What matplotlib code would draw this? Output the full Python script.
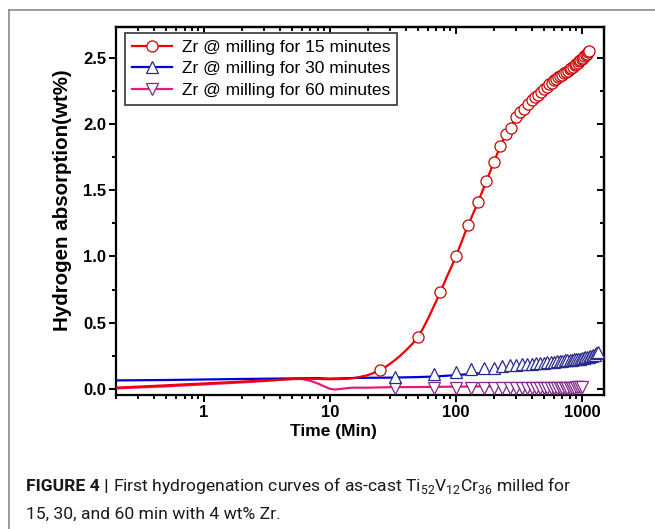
import matplotlib
matplotlib.use("Agg")
import matplotlib.pyplot as plt
from matplotlib.lines import Line2D
from matplotlib import font_manager
from matplotlib.ticker import FixedLocator, NullFormatter, LogLocator, MultipleLocator, FixedFormatter

# ---------------- data ----------------
# 15 min (red, circles)
red_line_t = [0.2, 0.3, 0.5, 0.7, 1, 1.5, 2, 3, 4, 5, 6, 7, 8, 10, 12, 14, 16, 18, 20, 22,
              25, 28, 32, 36, 40, 45, 50, 55, 60, 65, 70, 75, 80, 85, 90, 95, 100, 110, 120]
red_line_y = [0.010, 0.018, 0.028, 0.035, 0.042, 0.050, 0.056, 0.064, 0.070, 0.075, 0.078, 0.078, 0.076, 0.074, 0.075, 0.078, 0.085, 0.095, 0.105, 0.120,
              0.145, 0.170, 0.210, 0.250, 0.290, 0.340, 0.390, 0.460, 0.530, 0.600, 0.665, 0.730, 0.790, 0.850, 0.900, 0.950, 1.000, 1.100, 1.195]
red_t = [25, 50, 75, 100, 125, 150, 175, 200, 225, 250, 275, 300, 325, 350, 375, 400,
         425, 450, 475, 500, 525, 550, 575, 600, 625, 650, 675, 700, 725, 750, 775, 800,
         825, 850, 875, 900, 925, 950, 975, 1000, 1025, 1050, 1075, 1100, 1125, 1150]
red_y = [0.145, 0.39, 0.73, 1.00, 1.24, 1.41, 1.57, 1.71, 1.83, 1.92, 1.97, 2.05, 2.09, 2.11, 2.15, 2.18,
         2.20, 2.22, 2.24, 2.26, 2.28, 2.30, 2.31, 2.33, 2.34, 2.35, 2.36, 2.37, 2.38, 2.39, 2.40, 2.41,
         2.42, 2.43, 2.44, 2.45, 2.46, 2.47, 2.48, 2.49, 2.50, 2.51, 2.52, 2.53, 2.54, 2.55]

# 30 min (blue, up triangles)
blue_line_t = [0.2, 0.5, 1, 2, 5, 8, 10, 12, 15, 20, 30, 50, 70, 100, 150, 200, 300, 500, 700, 1000, 1200, 1400]
blue_line_y = [0.065, 0.068, 0.072, 0.076, 0.080, 0.082, 0.078, 0.080, 0.083, 0.085, 0.086, 0.090, 0.095, 0.105, 0.118, 0.128, 0.142, 0.162, 0.178, 0.198, 0.220, 0.255]
blue_t = [33, 67, 100, 133, 167, 200, 233, 267, 300, 333, 367, 400, 433, 467, 500, 533, 567, 600, 633, 667,
          700, 733, 767, 800, 833, 867, 900, 933, 967, 1000, 1033, 1067, 1100, 1133, 1167, 1200, 1233, 1267, 1300, 1333]
blue_y = [0.093, 0.113, 0.130, 0.150, 0.155, 0.158, 0.175, 0.180, 0.183, 0.186, 0.190, 0.192, 0.195, 0.197, 0.200, 0.202, 0.205, 0.207, 0.210, 0.212,
          0.214, 0.216, 0.218, 0.220, 0.222, 0.224, 0.226, 0.228, 0.230, 0.232, 0.235, 0.238, 0.240, 0.243, 0.246, 0.250, 0.255, 0.260, 0.270, 0.280]

# 60 min (magenta, down triangles)
mag_line_t = [0.2, 0.5, 1, 2, 3, 4, 5, 6, 7, 8, 9, 10, 11, 13, 15, 20, 30, 50, 100, 200, 500, 1000]
mag_line_y = [0.005, 0.020, 0.035, 0.050, 0.060, 0.070, 0.076, 0.076, 0.062, 0.042, 0.020, 0.002, -0.004, 0.004, 0.010, 0.010, 0.014, 0.015, 0.018, 0.020, 0.024, 0.025]
mag_t = [33, 67, 100, 133, 167, 200, 233, 267, 300, 333, 367, 400, 433, 467, 500,
         533, 567, 600, 633, 667, 700, 733, 767, 800, 833, 867, 900, 933, 967, 1000]
mag_y = [0.005, 0.005, 0.006, 0.006, 0.006, 0.007, 0.007, 0.007, 0.008, 0.008, 0.008, 0.008, 0.009, 0.009, 0.009,
         0.009, 0.010, 0.010, 0.010, 0.010, 0.010, 0.011, 0.011, 0.011, 0.011, 0.011, 0.012, 0.012, 0.012, 0.012]

labels = ["Zr @ milling for 15 minutes", "Zr @ milling for 30 minutes", "Zr @ milling for 60 minutes"]
x_ticks = [1, 10, 100, 1000]
x_ticklabels = ["1", "10", "100", "1000"]
y_ticks = [0.0, 0.5, 1.0, 1.5, 2.0, 2.5]
y_ticklabels = ["0.0", "0.5", "1.0", "1.5", "2.0", "2.5"]

# ---------------- fonts ----------------
names = {f.name for f in font_manager.fontManager.ttflist}
cap_family = "Liberation Sans"
for cand in ["Liberation Sans Narrow", "Roboto", "Liberation Sans"]:
    if cand in names:
        cap_family = cand
        break
plt.rcParams['font.family'] = ['Liberation Sans', 'DejaVu Sans']
plt.rcParams['mathtext.fontset'] = 'custom'
plt.rcParams['mathtext.rm'] = cap_family

W, H = 655, 529
fig = plt.figure(figsize=(W / 100, H / 100), dpi=100)
L, R, B, T = 116, 604, 395, 27
ax = fig.add_axes([L / W, 1 - B / H, (R - L) / W, (B - T) / H])

red_c, red_e = '#F00000', '#C80000'
blue_c, blue_e = '#0000DD', '#2A2A8A'
mag_c, mag_e = '#E8187C', '#7E2A86'
lw = 1.6
ms = 8

ax.plot(mag_line_t, mag_line_y, color=mag_c, lw=lw, zorder=2)
ax.plot(blue_line_t, blue_line_y, color=blue_c, lw=lw, zorder=2)
ax.plot(red_line_t + red_t[5:], red_line_y + red_y[5:], color=red_c, lw=lw, zorder=3)
ax.plot(mag_t, mag_y, ls='none', marker='v', ms=ms, mfc='white', mec=mag_e, mew=0.9, zorder=4)
ax.plot(blue_t, blue_y, ls='none', marker='^', ms=ms, mfc='white', mec=blue_e, mew=0.9, zorder=4)
ax.plot(red_t, red_y, ls='none', marker='o', ms=ms, mfc='white', mec=red_e, mew=0.9, zorder=5)

ax.set_xscale('log')
ax.set_xlim(0.2, 1500)
ax.set_ylim(-0.045, 2.73)

ax.xaxis.set_major_locator(FixedLocator(x_ticks))
ax.xaxis.set_major_formatter(FixedFormatter(x_ticklabels))
ax.xaxis.set_minor_locator(LogLocator(base=10, subs=range(2, 10), numticks=20))
ax.xaxis.set_minor_formatter(NullFormatter())
ax.yaxis.set_major_locator(FixedLocator(y_ticks))
ax.yaxis.set_major_formatter(FixedFormatter(y_ticklabels))
ax.yaxis.set_minor_locator(MultipleLocator(0.25))

for s in ax.spines.values():
    s.set_linewidth(1.6)
ax.tick_params(which='both', direction='out', width=1.4, top=False, right=False)
ax.tick_params(which='major', length=5, pad=2)
ax.tick_params(which='minor', length=2.8)
for lab in ax.get_xticklabels() + ax.get_yticklabels():
    lab.set_fontweight('bold')
    lab.set_fontsize(12)

# top / right inward ticks
secx = ax.secondary_xaxis('top')
secx.xaxis.set_major_locator(FixedLocator(x_ticks))
secx.xaxis.set_minor_locator(LogLocator(base=10, subs=range(2, 10), numticks=20))
secx.tick_params(which='both', direction='in', width=1.4, labeltop=False)
secx.tick_params(which='major', length=5)
secx.tick_params(which='minor', length=2.8)
secx.spines['top'].set_linewidth(1.6)
secy = ax.secondary_yaxis('right')
secy.yaxis.set_major_locator(FixedLocator(y_ticks))
secy.yaxis.set_minor_locator(MultipleLocator(0.25))
secy.tick_params(which='both', direction='in', width=1.4, labelright=False)
secy.tick_params(which='major', length=5)
secy.tick_params(which='minor', length=2.8)
secy.spines['right'].set_linewidth(1.6)

ax.set_xlabel("Time (Min)", fontsize=12.5, fontweight='bold')
ax.xaxis.set_label_coords((333 - L) / (R - L), -0.08)
ax.set_ylabel("Hydrogen absorption(wt%)", fontsize=14.8, fontweight='bold')
ax.yaxis.set_label_coords((72 - L) / (R - L), (B - 200) / (B - T))

handles = [
    Line2D([], [], color=red_c, lw=lw, marker='o', ms=ms, mfc='white', mec=red_e, mew=0.9),
    Line2D([], [], color=blue_c, lw=lw, marker='^', ms=ms, mfc='white', mec=blue_e, mew=0.9),
    Line2D([], [], color=mag_c, lw=lw, marker='v', ms=ms, mfc='white', mec=mag_e, mew=0.9),
]
leg = ax.legend(handles, labels, loc='upper left', bbox_to_anchor=((125 - L) / (R - L), (B - 33) / (B - T)),
                borderaxespad=0, fontsize=12.5, frameon=True, fancybox=False, framealpha=1,
                edgecolor='#444444', handlelength=2.3, handletextpad=0.6, borderpad=0.38,
                labelspacing=0.38)
leg.get_frame().set_linewidth(1.3)

# outer panel border
fig.add_artist(Line2D([9 / W, 9 / W], [1 - 10 / H, 0], transform=fig.transFigure, color='#8a8a8a', lw=1.2))
fig.add_artist(Line2D([9 / W, 1.0], [1 - 10 / H, 1 - 10 / H], transform=fig.transFigure, color='#8a8a8a', lw=1.2))

# caption
cs = 12.6
renderer = fig.canvas.get_renderer()
x0 = 26
y1 = H - 491
y2 = H - 519
t1 = fig.text(x0 / W, y1 / H, "FIGURE 4 |", family=cap_family, fontweight='bold', fontsize=cs,
              va='baseline', ha='left', color='#1a1a1a')
bb = t1.get_window_extent(renderer)
fig.text((bb.x1 + 4) / W, y1 / H,
         r"First hydrogenation curves of as-cast Ti$_{\mathrm{52}}$V$_{\mathrm{12}}$Cr$_{\mathrm{36}}$ milled for",
         family=cap_family, fontsize=cs, va='baseline', ha='left', color='#1a1a1a')
fig.text(x0 / W, y2 / H, "15, 30, and 60 min with 4 wt% Zr.", family=cap_family, fontsize=cs,
         va='baseline', ha='left', color='#1a1a1a')

fig.savefig("out.png", dpi=100)
